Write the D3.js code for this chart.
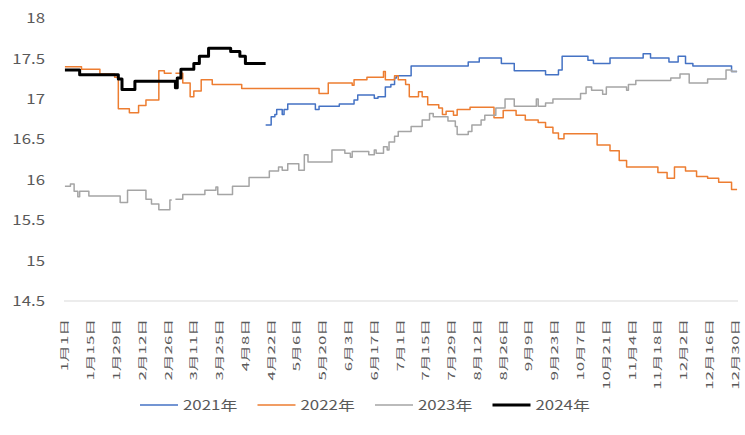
<!DOCTYPE html>
<html>
<head>
<meta charset="utf-8">
<script src="https://cdnjs.cloudflare.com/ajax/libs/d3/7.8.5/d3.min.js"></script>
<style>
  body { margin: 0; background: #fff; }
  text { font-family: "Noto Sans CJK SC", "Noto Sans", sans-serif; fill: #595959; }
</style>
</head>
<body>
<div id="chart"></div>
<script>
// tick labels on the day axis (one every 14 days)
let tickLabels = ["1月1日", "1月15日", "1月29日", "2月12日", "2月26日", "3月11日", "3月25日",
  "4月8日", "4月22日", "5月6日", "5月20日", "6月3日", "6月17日", "7月1日", "7月15日",
  "7月29日", "8月12日", "8月26日", "9月9日", "9月23日", "10月7日", "10月21日", "11月4日",
  "11月18日", "12月2日", "12月16日", "12月30日"];

let yTicks = [14.5, 15, 15.5, 16, 16.5, 17, 17.5, 18];

let seriesNames = ["2021年", "2022年", "2023年", "2024年"];

// [day of year, value] where the price changes (null = no 2月29日)
let data2021 = [[109,16.68],[112,16.78],[114,16.81],[115,16.87],[118,16.81],[119,16.87],[121,16.94],
  [136,16.87],[138,16.91],[149,16.94],[157,16.99],[159,17.05],[168,17.01],[170,17.03],[174,17.15],
  [177,17.18],[179,17.26],[180,17.29],[188,17.41],[219,17.46],[225,17.51],[237,17.44],[244,17.35],
  [261,17.30],[268,17.36],[270,17.53],[284,17.48],[287,17.44],[296,17.51],[314,17.56],[318,17.51],
  [328,17.46],[333,17.53],[337,17.44],[341,17.41],[362,17.34],[365,17.34]];

let data2022 = [[0,17.40],[9,17.37],[19,17.31],[27,17.27],[29,16.88],[35,16.83],[40,16.92],[44,16.99],
  [51,17.35],[54,17.32],[58,17.32],[59,null],[60,17.32],[64,17.20],[68,17.03],[70,17.10],[74,17.24],
  [80,17.18],[96,17.13],[138,17.07],[143,17.20],[156,17.17],[157,17.24],[164,17.27],[173,17.34],
  [174,17.24],[179,17.29],[181,17.24],[185,17.18],[187,17.03],[192,17.09],[194,17.03],[197,16.93],
  [203,16.89],[205,16.81],[207,16.85],[211,16.80],[213,16.87],[220,16.90],[233,16.77],[238,16.86],
  [245,16.80],[250,16.74],[257,16.71],[261,16.65],[265,16.58],[268,16.51],[271,16.57],[289,16.43],
  [296,16.36],[301,16.24],[305,16.16],[322,16.09],[327,16.02],[331,16.16],[337,16.11],[343,16.04],
  [349,16.02],[355,15.97],[362,15.88],[365,15.88]];

let data2023 = [[0,15.92],[3,15.95],[5,15.86],[7,15.79],[8,15.86],[13,15.80],[30,15.72],[34,15.87],
  [44,15.76],[47,15.70],[51,15.63],[57,15.75],[58,15.75],[59,null],[60,15.76],[64,15.82],[76,15.87],
  [82,15.91],[83,15.82],[91,15.92],[100,16.03],[111,16.11],[116,16.16],[118,16.12],[121,16.20],
  [127,16.12],[130,16.31],[132,16.22],[145,16.37],[152,16.33],[155,16.28],[156,16.35],[165,16.31],
  [168,16.37],[169,16.33],[173,16.41],[175,16.37],[176,16.47],[179,16.54],[181,16.60],[188,16.66],
  [194,16.74],[198,16.82],[200,16.78],[208,16.73],[212,16.66],[213,16.56],[219,16.60],[221,16.68],
  [226,16.74],[228,16.80],[234,16.89],[239,17.00],[244,16.91],[256,17.00],[257,16.91],[261,16.95],
  [265,17.00],[280,17.07],[283,17.15],[286,17.11],[292,17.06],[294,17.15],[305,17.11],[306,17.18],
  [310,17.23],[329,17.26],[334,17.31],[339,17.20],[349,17.25],[359,17.36],[362,17.34],[365,17.34]];

let data2024 = [[0,17.36],[8,17.30],[29,17.25],[31,17.12],[38,17.22],[60,17.14],[61,17.26],[63,17.37],
  [70,17.44],[73,17.53],[78,17.63],[90,17.59],[95,17.53],[98,17.44],[109,17.44]];

let colors = ["#4472C4", "#ED7D31", "#A5A5A5", "#000000"];
let widths = [1.5, 1.5, 1.5, 3];

let svg = d3.select("#chart")
  .append("svg")
  .attr("width", 745)
  .attr("height", 435);

// scales
let x = d3.scaleLinear()
  .domain([-0.5, 365.5])
  .range([64, 738]);

let y = d3.scaleLinear()
  .domain([14.5, 18])
  .range([301, 18.3]);

// baseline
svg.append("line")
  .attr("x1", x(-0.5))
  .attr("x2", x(365.5))
  .attr("y1", y(14.5))
  .attr("y2", y(14.5))
  .attr("stroke", "#d9d9d9")
  .attr("stroke-width", 1);

// y labels
svg.selectAll(".ylab")
  .data(yTicks)
  .enter()
  .append("text")
  .attr("class", "ylab")
  .attr("text-anchor", "end")
  .attr("dy", "0.35em")
  .attr("font-size", "14px")
  .attr("transform", d => "translate(45," + y(d) + ") scale(1.2,1)")
  .text(d => String(d));

// x labels, rotated
svg.selectAll(".xlab")
  .data(tickLabels)
  .enter()
  .append("text")
  .attr("class", "xlab")
  .attr("text-anchor", "end")
  .attr("dy", "0.36em")
  .attr("font-size", "12px")
  .attr("transform", (d, i) => "translate(" + x(i * 14) + ",319) rotate(-90) scale(1.4,0.8)")
  .text(d => d);

// lines
let line = d3.line()
  .defined(d => d[1] != null)
  .x(d => x(d[0]))
  .y(d => y(d[1]))
  .curve(d3.curveStepAfter);

let allData = [data2021, data2022, data2023, data2024];

svg.selectAll(".series")
  .data(allData)
  .enter()
  .append("path")
  .attr("class", "series")
  .attr("fill", "none")
  .attr("stroke", (d, i) => colors[i])
  .attr("stroke-width", (d, i) => widths[i])
  .attr("stroke-linejoin", "round")
  .attr("d", d => line(d));

// legend
let legend = svg.append("g")
  .attr("transform", "translate(140,405)");

let item = legend.selectAll(".item")
  .data(seriesNames)
  .enter()
  .append("g")
  .attr("class", "item")
  .attr("transform", (d, i) => "translate(" + (i * 117.5) + ",0)");

item.append("line")
  .attr("x1", 0)
  .attr("x2", 38)
  .attr("stroke", (d, i) => colors[i])
  .attr("stroke-width", (d, i) => widths[i]);

item.append("text")
  .attr("dy", "0.35em")
  .attr("font-size", "13px")
  .attr("transform", "translate(43,0) scale(1.3,1)")
  .text(d => d);
</script>
</body>
</html>
